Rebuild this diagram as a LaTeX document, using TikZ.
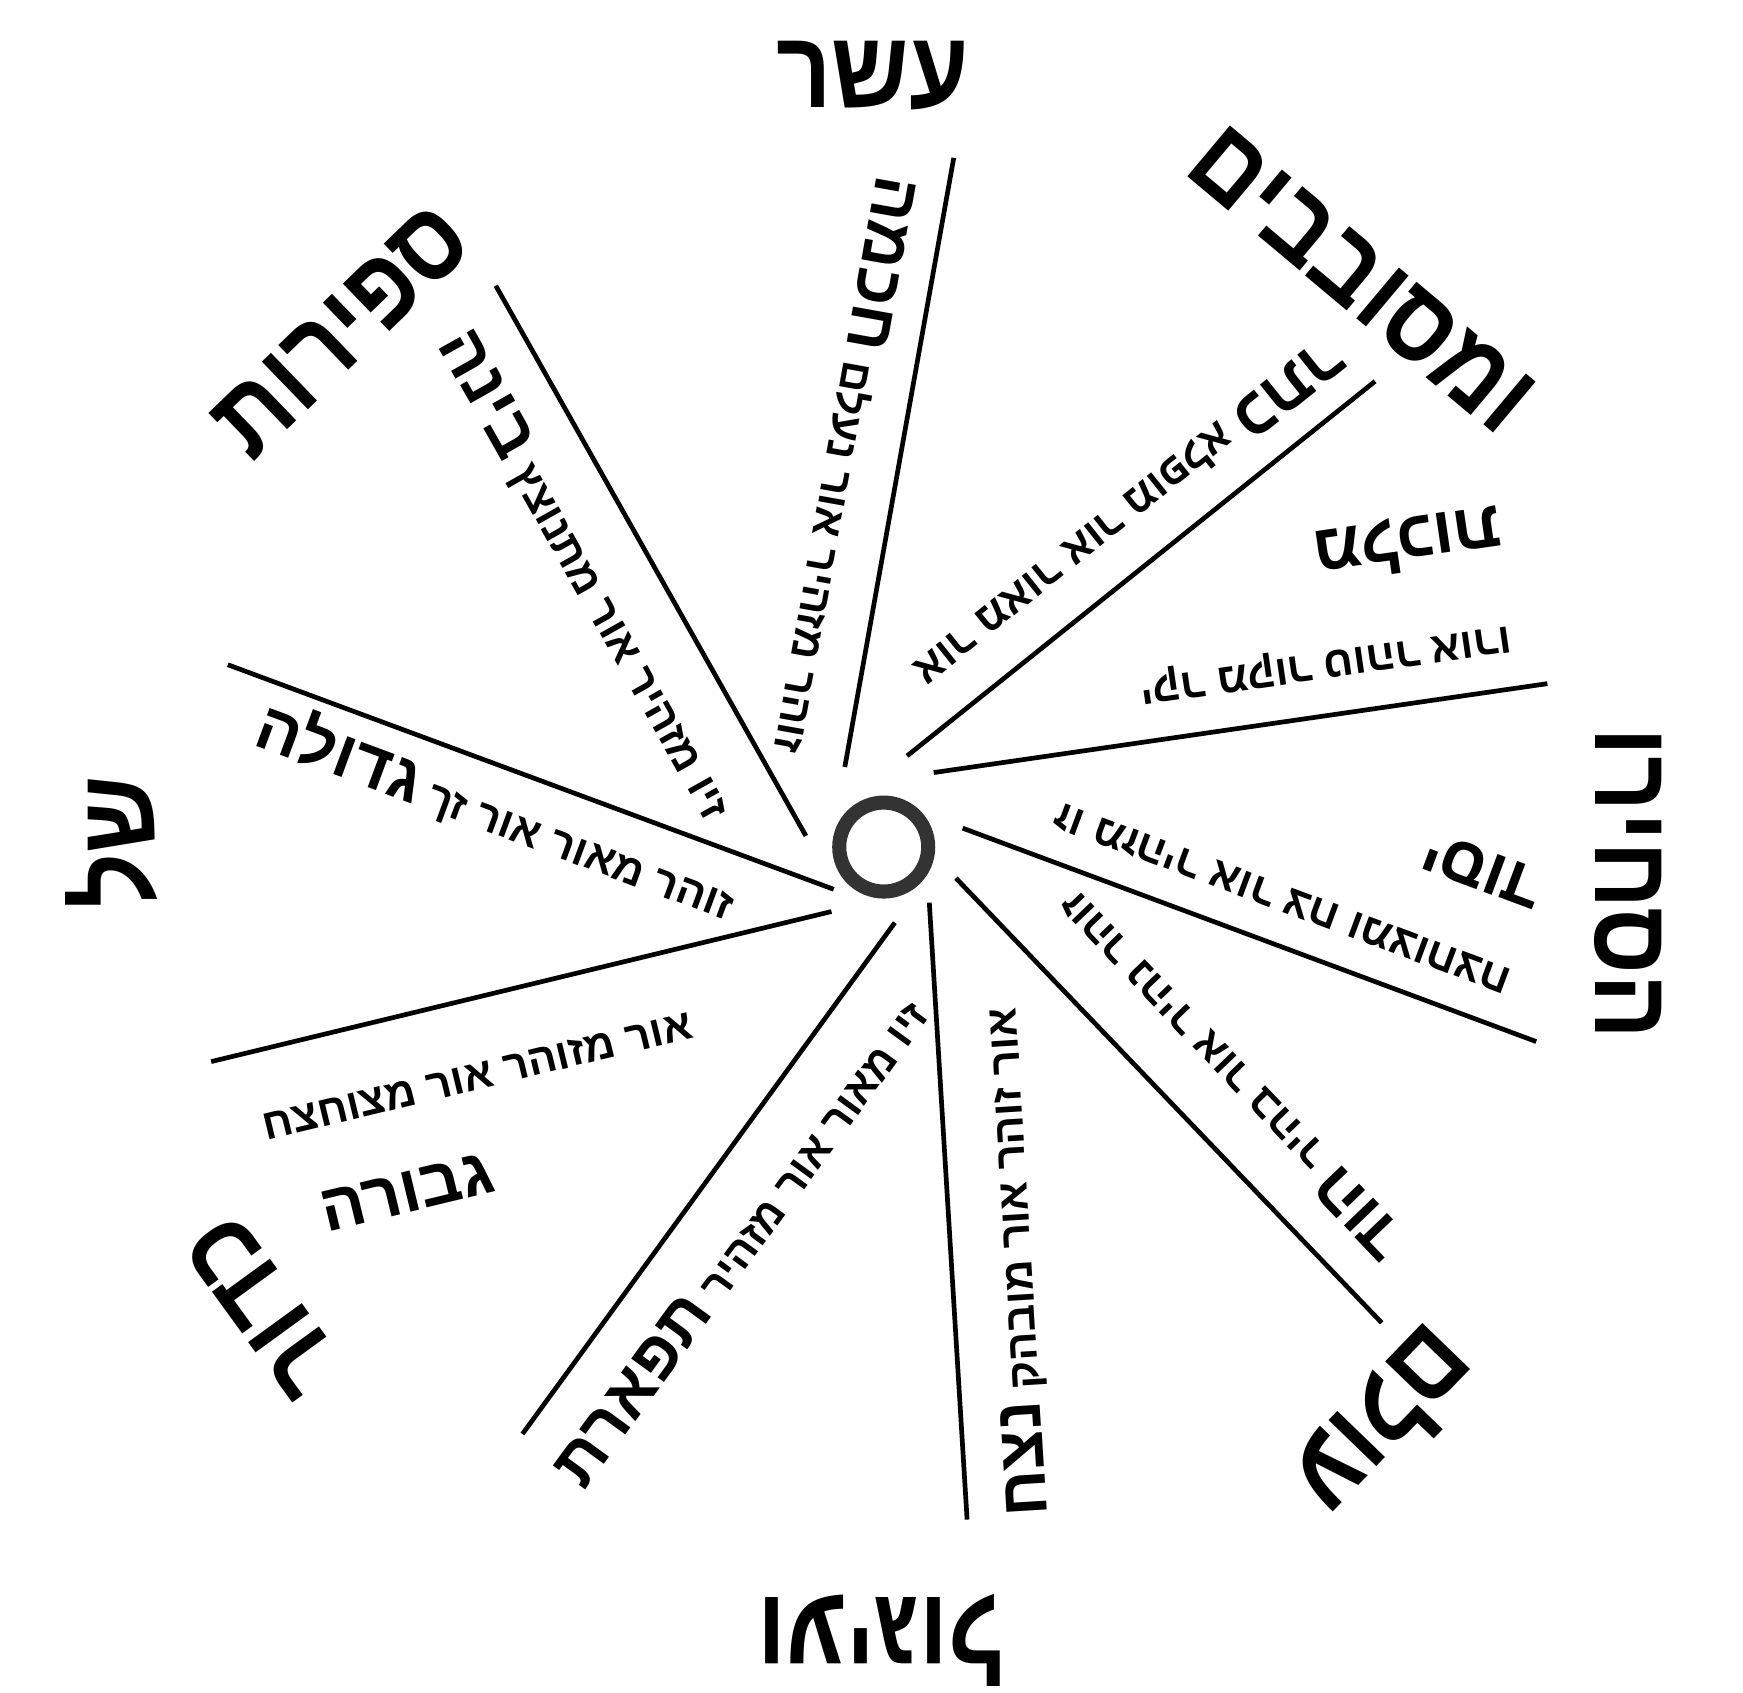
\documentclass[tikz,border=0pt]{standalone}
\usepackage{fontspec}
\newfontfamily\heb[Script=Hebrew]{Liberation Sans}
\newfontfamily\hebnarrow[Script=Hebrew, FakeStretch=0.88]{Liberation Sans}
\TeXXeTstate=1
\usetikzlibrary{positioning}

\tikzset{
  ray/.style={line width=1.2pt},
  raytext/.style={sloped, allow upside down, inner sep=1pt,
    font=\heb\bfseries\fontsize{11}{13}\selectfont},
  sefira/.style={sloped, allow upside down, inner sep=1pt,
    font=\heb\bfseries\fontsize{17}{19}\selectfont},
  bigword/.style={inner sep=0pt, font=\hebnarrow\bfseries\fontsize{28}{30}\selectfont},
}
\newcommand{\sefname}[1]{{\fontsize{17}{19}\selectfont #1}}

\begin{document}
\begin{tikzpicture}[x=0.01cm, y=-0.01cm]
\useasboundingbox (0,0) rectangle (1568,1523);

% the small ring in the middle
\node[draw=black!80, circle, line width=3.6pt, minimum size=0.8cm] (hub) at (795,762) {};

% inner and outer ends of the ten rays
\coordinate (i1) at (760,690);  \coordinate (o1) at (858,142);
\coordinate (i2) at (816,680);  \coordinate (o2) at (1237,343);
\coordinate (i3) at (840,695);  \coordinate (o3) at (1392,615);
\coordinate (i4) at (866,745);  \coordinate (o4) at (1382,937);
\coordinate (i5) at (860,790);  \coordinate (o5) at (1243,1190);
\coordinate (i6) at (836,812);  \coordinate (o6) at (870,1367);
\coordinate (i7) at (805,830);  \coordinate (o7) at (470,1290);
\coordinate (i8) at (748,820);  \coordinate (o8) at (190,955);
\coordinate (i9) at (750,800);  \coordinate (o9) at (205,598);
\coordinate (i10) at (725,752); \coordinate (o10) at (446,257);

\foreach \k in {1,...,10}
  \draw[ray] (i\k) -- (o\k);

% texts along the rays
\path (o1) -- (i1) node[raytext, pos=.52, below=7pt] (t1)
  {\beginR זוהר מזהיר אור נעלם \sefname{חכמה}\endR};
\path (o2) -- (i2) node[raytext, pos=.46, below=6pt] (t2)
  {\beginR אור מאור אור מופלא \sefname{כתר}\endR};
\path (o3) -- (i3) node[raytext, pos=.35, below=8pt] (t3)
  {\beginR יקר מקור טוהר אורו\endR};
\path (o3) -- (i3) node[sefira, pos=.19, below=32pt] (s3)
  {\beginR מלכות\endR};
\path (o4) -- (i4) node[raytext, pos=.47, below=7pt] (t4)
  {\beginR זו מזהיר אור צח ומצוחצח\endR};
\path (o4) -- (i4) node[sefira, pos=.18, below=30pt] (s4)
  {\beginR יסוד\endR};
\path (o5) -- (i5) node[raytext, pos=.46, below=9pt] (t5)
  {\beginR זוהר נהיר אור בהיר \sefname{הוד}\endR};
\path (o6) -- (i6) node[raytext, pos=.41, below=9pt] (t6)
  {\beginR אור זוהר אור מובהק \sefname{נצח}\endR};
\path (o7) -- (i7) node[raytext, pos=.45, below=10pt] (t7)
  {\beginR זיו מאור אור מזהיר \sefname{תפארת}\endR};
\path (o8) -- (i8) node[raytext, pos=.40, below=15pt] (t8)
  {\beginR אור מזוהר אור מצוחצח\endR};
\path (o8) -- (i8) node[sefira, pos=.25, below=38pt] (s8)
  {\beginR גבורה\endR};
\path (o9) -- (i9) node[raytext, pos=.47, below=2pt] (t9)
  {\beginR זוהר מאור אור זך \sefname{גדולה}\endR};
\path (o10) -- (i10) node[raytext, pos=.47, below=9pt] (t10)
  {\beginR זיו מזהיר אור מתנוצץ \sefname{בינה}\endR};

% the words round the outside
\node[bigword] (w1) at (785,68) {\beginR עשר\endR};
\node[bigword, rotate=44] (w2) at (308,298) {\beginR ספירות\endR};
\node[bigword, rotate=90] (w3) at (100,758) {\beginR של\endR};
\node[bigword, rotate=126] (w4) at (237,1175) {\beginR כדור\endR};
\node[bigword, rotate=180] (w5) at (792,1476) {\beginR ועיגול\endR};
\node[bigword, rotate=-134] (w6) at (1247,1280) {\beginR עולם\endR};
\node[bigword, rotate=-90] (w7) at (1465,795) {\beginR הסחירו\endR};
\node[bigword, rotate=-40] (w8) at (1225,252) {\beginR ומסובבים\endR};
\end{tikzpicture}
\end{document}
